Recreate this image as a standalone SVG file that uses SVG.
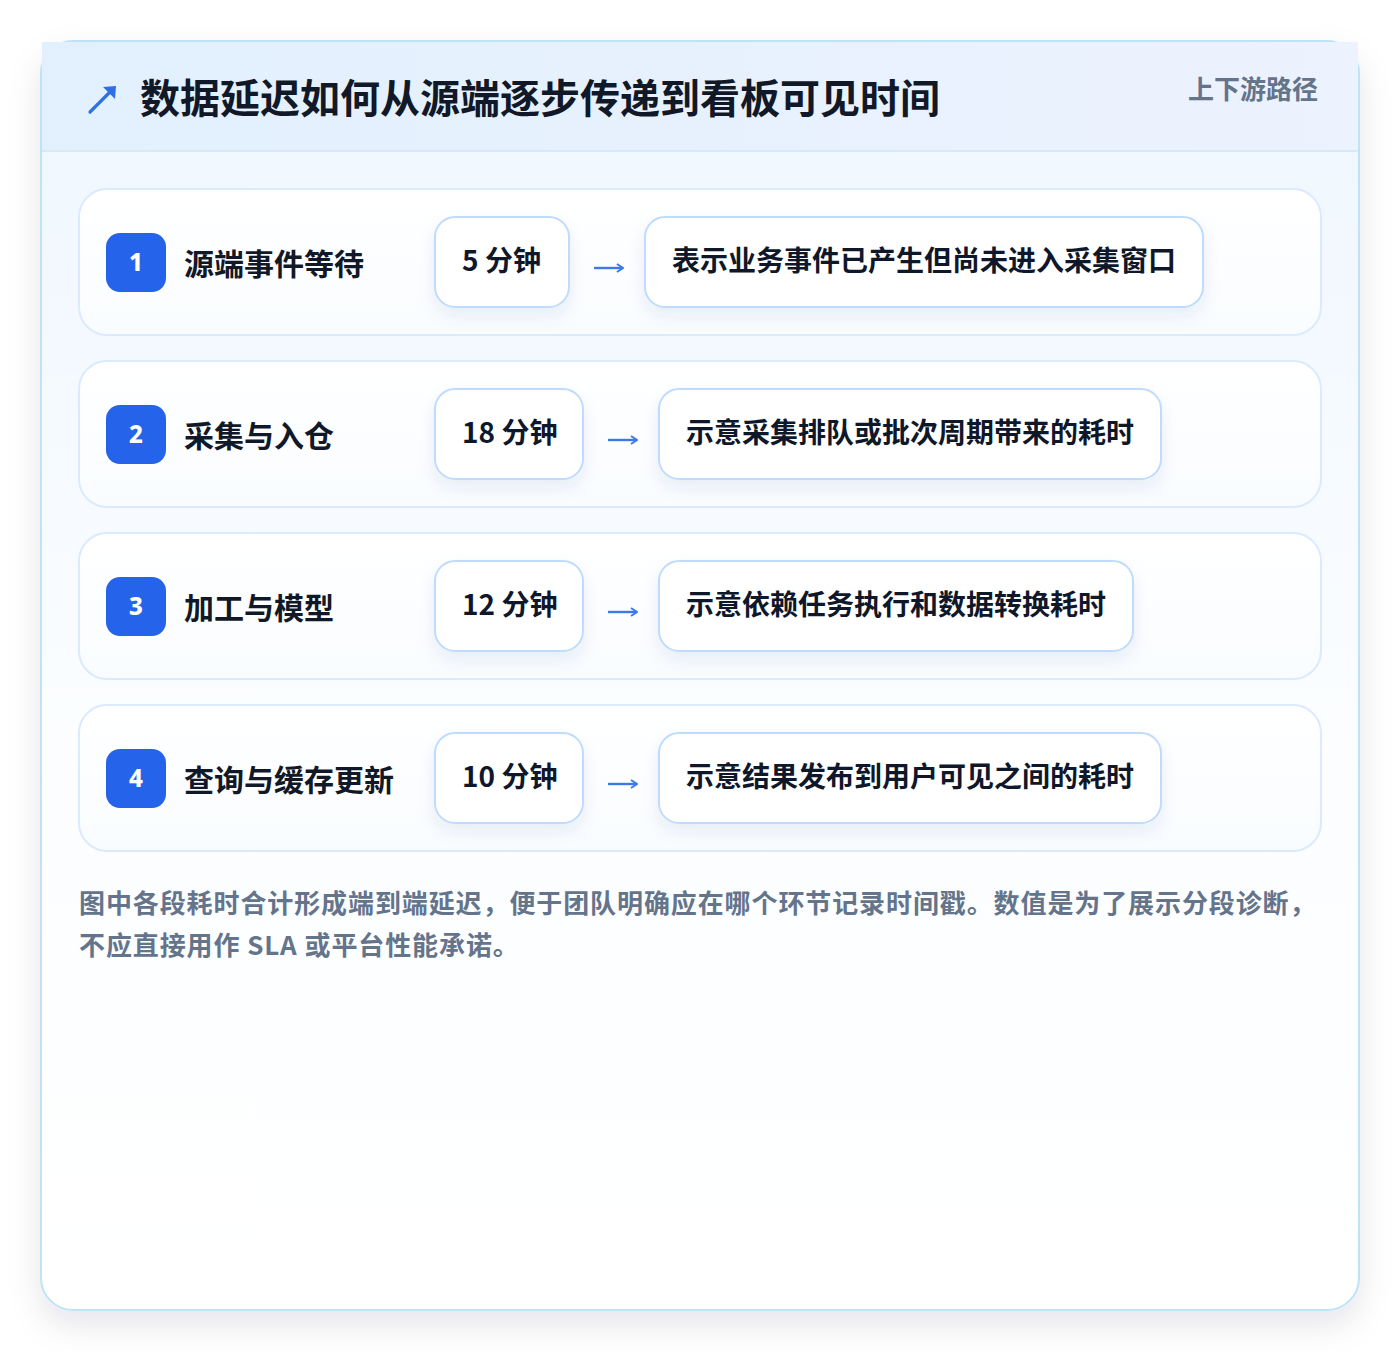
<svg xmlns="http://www.w3.org/2000/svg" width="1400" height="1352" viewBox="0 0 1400 1352">
<defs>
<linearGradient id="cardBg" x1="0" y1="0" x2="0" y2="1">
<stop offset="0" stop-color="#eef6fe"/>
<stop offset="0.55" stop-color="#fbfdff"/>
<stop offset="1" stop-color="#ffffff"/>
</linearGradient>
<linearGradient id="headBg" x1="0" y1="0" x2="1" y2="0">
<stop offset="0" stop-color="#e2f0fd"/>
<stop offset="1" stop-color="#ecf2fe"/>
</linearGradient>
<linearGradient id="rowBg" x1="0" y1="0" x2="0" y2="1">
<stop offset="0" stop-color="#ffffff"/>
<stop offset="1" stop-color="#f9fcff"/>
</linearGradient>
<filter id="cardShadow" x="-10%" y="-10%" width="120%" height="120%">
<feDropShadow dx="0" dy="14" stdDeviation="16" flood-color="#0f172a" flood-opacity="0.10"/>
</filter>
<filter id="boxShadow" x="-20%" y="-30%" width="140%" height="170%">
<feDropShadow dx="0" dy="8" stdDeviation="8" flood-color="#1e3a8a" flood-opacity="0.08"/>
</filter>
<marker id="ah" viewBox="0 0 10 10" refX="9" refY="5" markerWidth="10" markerHeight="10" markerUnits="userSpaceOnUse" orient="auto">
<path d="M3,1 L9,5 L3,9" fill="none" stroke="#3b7be8" stroke-width="2"/>
</marker>
</defs>
<style>
.cjk{font-family:"Noto Sans CJK SC","Noto Sans",sans-serif;font-weight:700}
.title{font-size:40px;fill:#111827}
.tag{font-size:26px;fill:#64748b}
.row{fill:url(#rowBg);stroke:#dbeafe;stroke-width:2}
.badge{fill:#2563eb}
.num{font-family:"Noto Sans","Liberation Sans",sans-serif;font-weight:800;font-size:24px;fill:#ffffff}
.label{font-size:30px;fill:#111827}
.box{fill:#ffffff;stroke:#bfdbfe;stroke-width:2;filter:url(#boxShadow)}
.val{font-size:28px;fill:#0f172a}
.desc{font-size:28px;fill:#0f172a}
.conn{stroke:#3b7be8;stroke-width:2.4;fill:none;marker-end:url(#ah)}
.foot{font-size:26px;fill:#64748b}
</style>
<rect x="0" y="0" width="1400" height="1352" fill="#ffffff"/>
<g id="card">
<rect x="41" y="41" width="1318" height="1269" rx="32" fill="url(#cardBg)" stroke="#bfe3f6" stroke-width="2" filter="url(#cardShadow)"/>
<rect x="42" y="42" width="1316" height="109" fill="url(#headBg)"/>
<line x1="42" y1="151" x2="1358" y2="151" stroke="#d6e8fb" stroke-width="2"/>
</g>
<g id="header">
<path d="M90,112 L112,90" stroke="#2f6fe4" stroke-width="3.2" fill="none" stroke-linecap="round"/>
<path d="M103,87 L116,86 L115,99 Z" fill="#2f6fe4"/>
<text class="cjk title" x="140" y="113">数据延迟如何从源端逐步传递到看板可见时间</text>
<text class="cjk tag" x="1188" y="99">上下游路径</text>
</g>
<g id="row1">
<rect class="row" x="79" y="189" width="1242" height="146" rx="28"/>
<rect class="badge" x="106" y="233" width="60" height="59" rx="14"/>
<text class="num" x="136" y="271" text-anchor="middle">1</text>
<text class="cjk label" x="184" y="275">源端事件等待</text>
<rect class="box" x="435" y="217" width="134" height="90" rx="20"/>
<text class="cjk val" x="462" y="271">5 分钟</text>
<rect class="box" x="645" y="217" width="558" height="90" rx="20"/>
<text class="cjk desc" x="672" y="271">表示业务事件已产生但尚未进入采集窗口</text>
</g>
<g id="row2">
<rect class="row" x="79" y="361" width="1242" height="146" rx="28"/>
<rect class="badge" x="106" y="405" width="60" height="59" rx="14"/>
<text class="num" x="136" y="443" text-anchor="middle">2</text>
<text class="cjk label" x="184" y="447">采集与入仓</text>
<rect class="box" x="435" y="389" width="148" height="90" rx="20"/>
<text class="cjk val" x="462" y="443">18 分钟</text>
<rect class="box" x="659" y="389" width="502" height="90" rx="20"/>
<text class="cjk desc" x="686" y="443">示意采集排队或批次周期带来的耗时</text>
</g>
<g id="row3">
<rect class="row" x="79" y="533" width="1242" height="146" rx="28"/>
<rect class="badge" x="106" y="577" width="60" height="59" rx="14"/>
<text class="num" x="136" y="615" text-anchor="middle">3</text>
<text class="cjk label" x="184" y="619">加工与模型</text>
<rect class="box" x="435" y="561" width="148" height="90" rx="20"/>
<text class="cjk val" x="462" y="615">12 分钟</text>
<rect class="box" x="659" y="561" width="474" height="90" rx="20"/>
<text class="cjk desc" x="686" y="615">示意依赖任务执行和数据转换耗时</text>
</g>
<g id="row4">
<rect class="row" x="79" y="705" width="1242" height="146" rx="28"/>
<rect class="badge" x="106" y="749" width="60" height="59" rx="14"/>
<text class="num" x="136" y="787" text-anchor="middle">4</text>
<text class="cjk label" x="184" y="791">查询与缓存更新</text>
<rect class="box" x="435" y="733" width="148" height="90" rx="20"/>
<text class="cjk val" x="462" y="787">10 分钟</text>
<rect class="box" x="659" y="733" width="502" height="90" rx="20"/>
<text class="cjk desc" x="686" y="787">示意结果发布到用户可见之间的耗时</text>
</g>
<g id="connectors">
<path class="conn" d="M594,268 L623,268"/>
<path class="conn" d="M608,440 L637,440"/>
<path class="conn" d="M608,612 L637,612"/>
<path class="conn" d="M608,784 L637,784"/>
</g>
<g id="footnote">
<text class="cjk foot" x="79" y="913" letter-spacing="0.9">图中各段耗时合计形成端到端延迟，便于团队明确应在哪个环节记录时间戳。数值是为了展示分段诊断，</text>
<text class="cjk foot" x="79" y="955" letter-spacing="0.9">不应直接用作 SLA 或平台性能承诺。</text>
</g>
</svg>
